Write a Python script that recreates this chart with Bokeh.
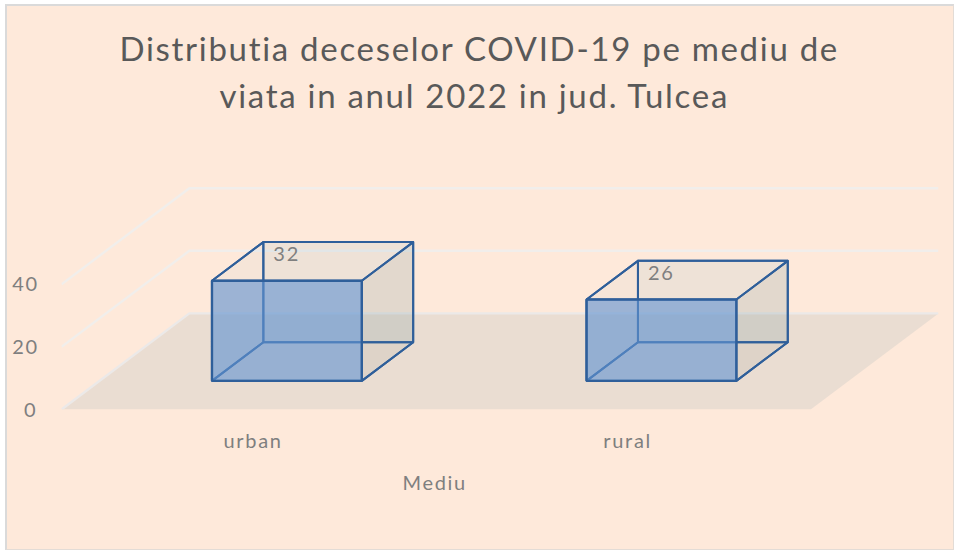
from bokeh.plotting import figure
from bokeh.models import Range1d, LinearAxis, FixedTicker, Title
from bokeh.core.properties import value as V
from bokeh.embed import file_html
from bokeh.resources import INLINE

categories = ["urban", "rural"]
values = [32, 26]
y_ticks = [0, 20, 40]
title_lines = ["Distributia deceselor COVID-19 pe mediu de", "viata in anul 2022 in jud. Tulcea"]
x_title = "Mediu"

# oblique projection of the 3-D chart box
DX = 0.3413   # x shift (category units) from floor front to back wall
DY = 30.7     # y shift (value units) from floor front to back wall
D0, D1 = 0.298, 0.70   # bar depth span
HW = 0.2      # half bar width

BG = "#FEE9DA"
GRID = "#F1EEEB"
TXT = "#7F7F7F"
FONT = "Lato"

def P(x, v, d):
    return x + d * DX, v + d * DY

PX_PER_UNIT = 3.13
W, H = 949, 546
BL, BR, BT, BB = 54, 18, 113, 143
frame_h = H - BT - BB

p = figure(width=W, height=H, output_backend="svg", toolbar_location=None,
           x_range=Range1d(-0.5, 1.5 + DX), y_range=Range1d(0, frame_h / PX_PER_UNIT),
           min_border_left=BL, min_border_right=BR, min_border_top=BT, min_border_bottom=BB,
           x_axis_type=None, y_axis_type=None,
           background_fill_color=BG, border_fill_color=BG, outline_line_color=None)
p.margin = (4, 0, 0, 5)
p.grid.visible = False
p.styles = {"border-left": "2px solid #DADADA", "border-top": "2px solid #DADADA",
            "border-right": "1px solid #E3DCD6", "border-bottom": "1px solid #E3DCD6",
            "background-color": BG, "letter-spacing": "1.7px"}

# floor
fx, fy = zip(*[P(-0.5, 0, 0), P(1.5, 0, 0), P(1.5, 0, 1), P(-0.5, 0, 1)])
p.patch(list(fx), list(fy), fill_color="#EADDD2", line_color=None)

# gridlines on the side and back walls
for t in y_ticks:
    gx, gy = zip(*[P(-0.5, t, 0), P(-0.5, t, 1), P(1.5, t, 1)])
    p.line(list(gx), list(gy), line_color=GRID if t else "#ECE9E8", line_width=2.4)

# bars
for i, v in enumerate(values):
    l, r = i - HW, i + HW
    def face(*pts):
        xs, ys = zip(*pts)
        return list(xs), list(ys)
    back = face(P(l, 0, D1), P(r, 0, D1), P(r, v, D1), P(l, v, D1))
    left = face(P(l, 0, D0), P(l, 0, D1), P(l, v, D1), P(l, v, D0))
    right = face(P(r, 0, D0), P(r, 0, D1), P(r, v, D1), P(r, v, D0))
    bottom = face(P(l, 0, D0), P(r, 0, D0), P(r, 0, D1), P(l, 0, D1))
    front = face(P(l, 0, D0), P(r, 0, D0), P(r, v, D0), P(l, v, D0))
    top = face(P(l, v, D0), P(r, v, D0), P(r, v, D1), P(l, v, D1))
    for f, c, a in [(back, "#5EA3C6", 0.10), (left, "#5EA3C6", 0.05), (right, "#58655B", 0.08)]:
        p.patch(*f, fill_color=c, fill_alpha=a, line_color="#2F5F9A", line_width=2, line_join="round")
    p.patch(*bottom, fill_alpha=0.0, line_color="#2F5F9A", line_width=2)
    p.patch(*top, fill_alpha=0.0, line_color="#2F5F9A", line_width=2)
    p.patch(*front, fill_color="#6495D2", fill_alpha=0.62, line_color="#2F5F9A", line_width=2.4)
    lx, ly = P(l, v, D1)
    p.text([lx], [ly], text=[str(v)], x_offset=10, y_offset=5, text_font=V(FONT),
           text_font_size="20px", text_color=TXT, text_baseline="top", text_align="left")

# axes
ya = LinearAxis(ticker=FixedTicker(ticks=y_ticks), axis_line_color=None,
                major_tick_line_color=None, minor_tick_line_color=None,
                major_label_standoff=20, major_label_text_font=FONT,
                major_label_text_font_size="20px", major_label_text_color=TXT)
p.add_layout(ya, "left")
xa = LinearAxis(ticker=FixedTicker(ticks=list(range(len(categories)))), axis_line_color=None,
                major_tick_line_color=None, minor_tick_line_color=None,
                major_label_overrides={i: c for i, c in enumerate(categories)},
                major_label_standoff=12, major_label_text_font=FONT,
                major_label_text_font_size="20px", major_label_text_color=TXT)
p.add_layout(xa, "below")
p.add_layout(Title(text=x_title, align="left", offset=341, text_font=FONT, text_font_size="20px",
                   text_font_style="normal", text_color=TXT, standoff=27), "below")

# two-line title
p.add_layout(Title(text=title_lines[1], align="left", offset=158, text_font=FONT, text_font_size="33px",
                   text_font_style="normal", text_color="#595959", standoff=9), "above")
p.add_layout(Title(text=title_lines[0], align="left", offset=58, text_font=FONT, text_font_size="33px",
                   text_font_style="normal", text_color="#595959", standoff=2), "above")

open("out.html", "w").write(file_html(p, INLINE))
